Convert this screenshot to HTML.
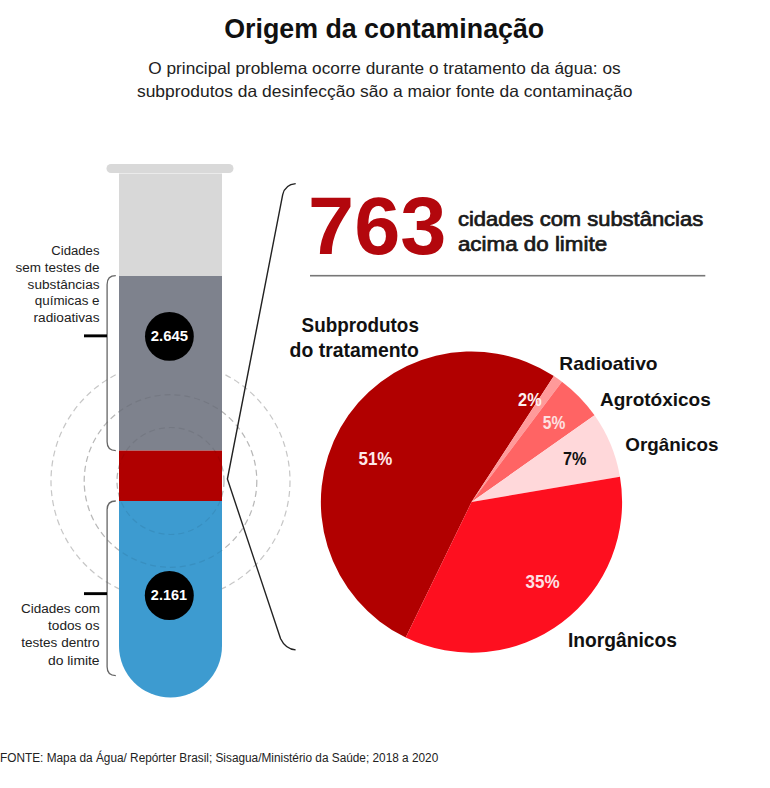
<!DOCTYPE html>
<html><head><meta charset="utf-8"><style>
html,body{margin:0;padding:0;background:#fff;width:770px;height:788px;overflow:hidden}
svg{display:block}
text{font-family:"Liberation Sans",sans-serif}
</style></head><body>
<svg width="770" height="788" viewBox="0 0 770 788">
<rect width="770" height="788" fill="#fff"/>
<!-- dashed circles -->
<g fill="none" stroke="#999" stroke-width="1.2" stroke-dasharray="6 4" opacity="0.55">
<circle cx="170.5" cy="481" r="119.5"/>
<circle cx="170.5" cy="481" r="86.3"/>
<circle cx="170.5" cy="481" r="53.5"/>
</g>
<!-- tube -->
<rect x="106.5" y="164" width="127" height="9" rx="4.5" fill="#d9d9d9"/>
<rect x="119" y="173.5" width="103" height="103" fill="#d8d8d8"/>
<rect x="119" y="276" width="103" height="174.6" fill="#7e828d"/>
<rect x="119" y="450.6" width="103" height="50.5" fill="#b00000"/>
<path d="M119 501.1 H222 V646 A51.5 51.5 0 0 1 119 646 Z" fill="#3d9bd0"/>
<g fill="none" stroke="#000" stroke-width="1.2" stroke-dasharray="6 4" opacity="0.07">
<circle cx="170.5" cy="481" r="86.3"/>
<circle cx="170.5" cy="481" r="53.5"/>
</g>
<circle cx="169.4" cy="336.4" r="24.4" fill="#000"/>
<circle cx="169.3" cy="595.5" r="24.5" fill="#000"/>
<!-- brackets -->
<g fill="none" stroke="#666" stroke-width="1.3">
<path d="M115.8 275.7 Q107.1 275.7 107.1 284.5 V441.8 Q107.1 450.6 115.8 450.6"/>
<path d="M115.8 501 Q107.1 501 107.1 509.8 V666.8 Q107.1 675.6 115.8 675.6"/>
</g>
<rect x="84" y="334.4" width="23" height="2.9" fill="#000"/>
<rect x="84" y="592.2" width="23" height="2.9" fill="#000"/>
<path d="M295.7 183.6 Q285 184.5 282.7 194.7 L227.4 479 L280.6 638.7 Q285.5 649 295.6 649.9" fill="none" stroke="#222" stroke-width="1.4"/>
<!-- separator -->
<rect x="310" y="274.9" width="395.3" height="1.6" fill="#777"/>
<!-- pie -->
<path d="M471.5 502.1 L405.72 637.57 A150.6 150.6 0 1 1 553.85 376.01Z" fill="#b10000"/>
<path d="M471.5 502.1 L553.85 376.01 A150.6 150.6 0 0 1 561.92 381.67Z" fill="#ff9a9a"/>
<path d="M471.5 502.1 L561.92 381.67 A150.6 150.6 0 0 1 594.56 415.29Z" fill="#ff6464"/>
<path d="M471.5 502.1 L594.56 415.29 A150.6 150.6 0 0 1 619.95 476.73Z" fill="#ffd8da"/>
<path d="M471.5 502.1 L619.95 476.73 A150.6 150.6 0 0 1 405.72 637.57Z" fill="#fe0f1f"/>
<text x="224.23" y="38.3" font-size="27" font-weight="bold" fill="#111" textLength="320.00" lengthAdjust="spacingAndGlyphs" >Origem da contaminação</text>
<text x="148.31" y="74.2" font-size="16.5" font-weight="normal" fill="#222" textLength="472.31" lengthAdjust="spacingAndGlyphs" >O principal problema ocorre durante o tratamento da água: os</text>
<text x="136.95" y="97.2" font-size="16.5" font-weight="normal" fill="#222" textLength="495.48" lengthAdjust="spacingAndGlyphs" >subprodutos da desinfecção são a maior fonte da contaminação</text>
<text x="51.34" y="254.6" font-size="12.3" font-weight="normal" fill="#222" textLength="48.15" lengthAdjust="spacingAndGlyphs" >Cidades</text>
<text x="15.63" y="271.5" font-size="12.3" font-weight="normal" fill="#222" textLength="83.96" lengthAdjust="spacingAndGlyphs" >sem testes de</text>
<text x="27.63" y="288.5" font-size="12.3" font-weight="normal" fill="#222" textLength="71.88" lengthAdjust="spacingAndGlyphs" >substâncias</text>
<text x="34.76" y="305.3" font-size="12.3" font-weight="normal" fill="#222" textLength="64.82" lengthAdjust="spacingAndGlyphs" >químicas e</text>
<text x="33.58" y="322.2" font-size="12.3" font-weight="normal" fill="#222" textLength="65.93" lengthAdjust="spacingAndGlyphs" >radioativas</text>
<text x="21.02" y="613.4" font-size="12.3" font-weight="normal" fill="#222" textLength="78.93" lengthAdjust="spacingAndGlyphs" >Cidades com</text>
<text x="48.06" y="630.4" font-size="12.3" font-weight="normal" fill="#222" textLength="51.44" lengthAdjust="spacingAndGlyphs" >todos os</text>
<text x="21.26" y="647.4" font-size="12.3" font-weight="normal" fill="#222" textLength="78.33" lengthAdjust="spacingAndGlyphs" >testes dentro</text>
<text x="47.95" y="664.5" font-size="12.3" font-weight="normal" fill="#222" textLength="51.66" lengthAdjust="spacingAndGlyphs" >do limite</text>
<text x="150.85" y="341" font-size="14.5" font-weight="bold" fill="#fff" textLength="37.24" lengthAdjust="spacingAndGlyphs" >2.645</text>
<text x="150.87" y="600" font-size="14.5" font-weight="bold" fill="#fff" textLength="36.11" lengthAdjust="spacingAndGlyphs" >2.161</text>
<text x="308.08" y="254" font-size="81" font-weight="bold" fill="#b3070d" textLength="138.31" lengthAdjust="spacingAndGlyphs" >763</text>
<text x="457.92" y="225.5" font-size="20" font-weight="normal" fill="#1a1a1a" textLength="245.24" lengthAdjust="spacingAndGlyphs" stroke="#1a1a1a" stroke-width="0.7">cidades com substâncias</text>
<text x="457.91" y="251.4" font-size="20" font-weight="normal" fill="#1a1a1a" textLength="149.20" lengthAdjust="spacingAndGlyphs" stroke="#1a1a1a" stroke-width="0.7">acima do limite</text>
<text x="301.62" y="332.3" font-size="19.3" font-weight="bold" fill="#111" textLength="117.26" lengthAdjust="spacingAndGlyphs" >Subprodutos</text>
<text x="289.63" y="357.2" font-size="19.3" font-weight="bold" fill="#111" textLength="129.17" lengthAdjust="spacingAndGlyphs" >do tratamento</text>
<text x="559.35" y="369.5" font-size="18.6" font-weight="bold" fill="#111" textLength="98.25" lengthAdjust="spacingAndGlyphs" >Radioativo</text>
<text x="599.92" y="405.8" font-size="18.6" font-weight="bold" fill="#111" textLength="110.87" lengthAdjust="spacingAndGlyphs" >Agrotóxicos</text>
<text x="625.25" y="450.9" font-size="18.6" font-weight="bold" fill="#111" textLength="93.24" lengthAdjust="spacingAndGlyphs" >Orgânicos</text>
<text x="567.95" y="646.6" font-size="19.3" font-weight="bold" fill="#111" textLength="108.95" lengthAdjust="spacingAndGlyphs" >Inorgânicos</text>
<text x="358.49" y="464.6" font-size="17.8" font-weight="bold" fill="#fde8ea" textLength="33.83" lengthAdjust="spacingAndGlyphs" >51%</text>
<text x="518.11" y="405.5" font-size="17.8" font-weight="bold" fill="#fdf0f0" textLength="23.50" lengthAdjust="spacingAndGlyphs" >2%</text>
<text x="542.73" y="428.9" font-size="17.8" font-weight="bold" fill="#fde0e0" textLength="22.57" lengthAdjust="spacingAndGlyphs" >5%</text>
<text x="562.95" y="464.5" font-size="17.8" font-weight="bold" fill="#111" textLength="23.36" lengthAdjust="spacingAndGlyphs" >7%</text>
<text x="525.46" y="587.7" font-size="17.8" font-weight="bold" fill="#fde0e4" textLength="34.07" lengthAdjust="spacingAndGlyphs" >35%</text>
<text x="0.05" y="761.8" font-size="12" font-weight="normal" fill="#222" textLength="438.17" lengthAdjust="spacingAndGlyphs" >FONTE: Mapa da Água/ Repórter Brasil; Sisagua/Ministério da Saúde; 2018 a 2020</text>
</svg>
</body></html>
